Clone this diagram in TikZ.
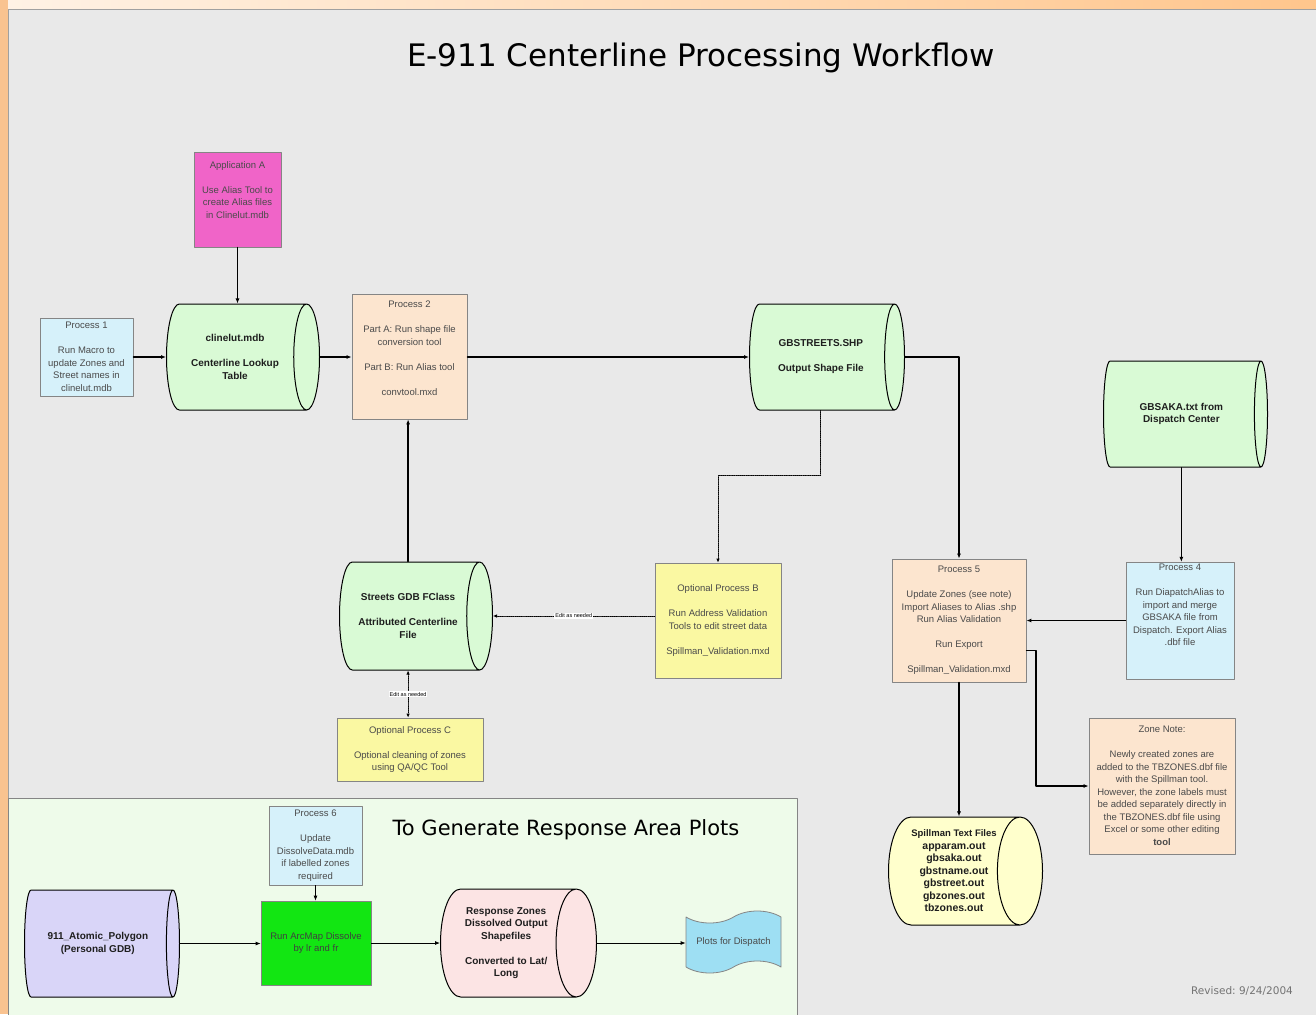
\documentclass[tikz,border=0pt]{standalone}
\usepackage{fontspec}
\setmainfont{Liberation Sans}
\newfontfamily\headfont{DejaVu Sans}
\usetikzlibrary{shapes.geometric,shapes.symbols,arrows.meta}

\definecolor{panelgray}{HTML}{E9E9E9}
\definecolor{panelline}{HTML}{A0A0A0}
\definecolor{plotpanel}{HTML}{EEFBEA}
\definecolor{edgeorange}{HTML}{F9C390}
\definecolor{boxline}{HTML}{858585}
\definecolor{boxtext}{HTML}{4A4A4A}
\definecolor{storetext}{HTML}{1E1E1E}
\definecolor{appmagenta}{HTML}{F064C8}
\definecolor{procblue}{HTML}{D6F1FA}
\definecolor{procpeach}{HTML}{FCE5CF}
\definecolor{optyellow}{HTML}{FAF8A2}
\definecolor{storegreen}{HTML}{D9FAD5}
\definecolor{storeyellow}{HTML}{FFFFCC}
\definecolor{storelilac}{HTML}{D9D5F8}
\definecolor{storepink}{HTML}{FCE4E4}
\definecolor{dissolvegreen}{HTML}{12E612}
\definecolor{plotblue}{HTML}{9EDFF3}

\tikzset{
  procbox/.style={draw=boxline, line width=0.8pt, align=center, inner sep=2pt,
    font=\fontsize{9.5}{12.5}\selectfont, text=boxtext},
  datastore/.style={cylinder, draw=black, line width=1pt, aspect=0.55, align=center,
    inner sep=1pt, anchor=east, font=\fontsize{10}{12.5}\selectfont\bfseries, text=storetext},
  flow/.style={line width=1.2pt, -{Latex[length=5pt,width=4pt]}},
  thinflow/.style={line width=0.8pt, -{Latex[length=5pt,width=4pt]}},
  editflow/.style={line width=0.9pt, densely dotted, -{Latex[length=4pt,width=3.5pt]}},
  edittag/.style={fill=white, inner sep=1pt, font=\fontsize{5.5}{6}\selectfont},
}

\begin{document}
\begin{tikzpicture}[x=1pt,y=-1pt,line cap=round,line join=round]
  \useasboundingbox (0,0) rectangle (1316,1014);

  % frame and panels
  \shade[left color=orange!10, right color=orange!45] (0,0) rectangle (1316,10);
  \fill[edgeorange] (0,0) rectangle (8,1014);
  \draw[fill=panelgray, draw=panelline, line width=1pt] (8,10) rectangle (1320,1018);
  \draw[fill=plotpanel, draw=boxline, line width=0.8pt] (8,798) rectangle (797,1018);

  \node[font=\headfont\fontsize{31}{36}\selectfont] (title) at (701,58)
    {E-911 Centerline Processing Workflow};
  \node[font=\headfont\fontsize{21}{24}\selectfont] (plotstitle) at (566,830)
    {To Generate Response Area Plots};
  \node[font=\headfont\fontsize{10.5}{12}\selectfont, text=gray!90!black] (revised) at (1242,991)
    {Revised:\ 9/24/2004};

  % upper workflow
  \node[procbox, fill=appmagenta, minimum width=87pt, minimum height=95pt] (appA) at (237.5,199.5)
    {Application A\\[12.5pt]Use Alias Tool to\\create Alias files\\in Clinelut.mdb\\[6.5pt]\mbox{}};
  \node[procbox, fill=procblue, minimum width=93pt, minimum height=78pt] (p1) at (86.5,357)
    {Process 1\\[12.5pt]Run Macro to\\update Zones and\\Street names in\\clinelut.mdb};
  \node[datastore, fill=storegreen, minimum height=153pt, minimum width=106pt] (clinelut) at (320,357)
    {clinelut.mdb\\[12.5pt]Centerline Lookup\\Table};
  \node[procbox, fill=procpeach, minimum width=115pt, minimum height=125pt] (p2) at (409.5,356.5)
    {Process 2\\[12.5pt]Part A: Run shape file\\conversion tool\\[12.5pt]Part B: Run Alias tool\\[12.5pt]convtool.mxd\\[4.5pt]\mbox{}};
  \node[datastore, fill=storegreen, minimum height=155pt, minimum width=106pt] (gbstreets) at (905,357)
    {GBSTREETS.SHP\\[12.5pt]Output Shape File};
  \node[datastore, fill=storegreen, minimum height=164pt, minimum width=106pt] (gbsaka) at (1268,414)
    {GBSAKA.txt from\\Dispatch Center};

  \node[datastore, fill=storegreen, minimum height=153pt, minimum width=108pt] (gdb) at (493,616)
    {Streets GDB FClass\\[12.5pt]Attributed Centerline\\File};
  \node[procbox, fill=optyellow, minimum width=146pt, minimum height=63pt] (optC) at (410,749.5)
    {Optional Process C\\[12.5pt]Optional cleaning of zones\\using QA/QC Tool};
  \node[procbox, fill=optyellow, minimum width=126pt, minimum height=115pt] (optB) at (718,620.5)
    {Optional Process B\\[12.5pt]Run Address Validation\\Tools to edit street data\\[12.5pt]Spillman\_Validation.mxd};
  \node[procbox, fill=procpeach, minimum width=134pt, minimum height=123pt] (p5) at (959,620.5)
    {Process 5\\[12.5pt]Update Zones (see note)\\Import Aliases to Alias .shp\\Run Alias Validation\\[12.5pt]Run Export\\[12.5pt]Spillman\_Validation.mxd};
  \node[procbox, fill=procblue, minimum width=108pt, minimum height=116pt] (p4) at (1180,621)
    {Process 4\\[12.5pt]Run DiapatchAlias to\\import and merge\\GBSAKA file from\\Dispatch. Export Alias\\.dbf file\\[19.5pt]\mbox{}};
  \node[procbox, fill=procpeach, minimum width=146pt, minimum height=136pt] (note) at (1162,786)
    {Zone Note:\\[12.5pt]Newly created zones are\\added to the TBZONES.dbf file\\with the Spillman tool.\\However, the zone labels must\\be added separately directly in\\the TBZONES.dbf file using\\Excel or some other editing\\\textbf{tool}};
  \node[datastore, fill=storeyellow, minimum height=154pt, minimum width=108pt, inner sep=0pt,
    font=\fontsize{10.5}{12.5}\selectfont\bfseries] (spillman) at (1043,871)
    {{\fontsize{9.5}{12.5}\selectfont Spillman Text Files}\\apparam.out\\gbsaka.out\\gbstname.out\\gbstreet.out\\gbzones.out\\tbzones.out};

  \draw[flow] (appA.south) -- (appA.south |- clinelut.north);
  \draw[flow] (p1.east) -- (clinelut.west |- p1.east);
  \draw[flow] (clinelut.east) -- (p2.west |- clinelut.east);
  \draw[flow] (p2.east |- gbstreets.west) -- (gbstreets.west);
  \draw[flow] (gbstreets.east) -| (p5.north);
  \draw[flow] (gdb.north) -- (gdb.north |- p2.south);
  \coordinate (dotbend) at (0,475);
  \draw[editflow] (gbstreets.south) -- (gbstreets.south |- dotbend) -| (optB.north);
  \draw[editflow] (optB.west |- gdb.east) -- node[edittag] {Edit as needed} (gdb.east);
  \draw[editflow, {Latex[length=4pt,width=3.5pt]}-{Latex[length=4pt,width=3.5pt]}]
    (gdb.south) -- node[edittag] {Edit as needed} (gdb.south |- optC.north);
  \draw[thinflow] (gbsaka.south) -- (gbsaka.south |- p4.north);
  \draw[flow] (p4.west |- p5.east) -- (p5.east);
  \draw[flow] (p5.south) -- (p5.south |- spillman.north);
  \coordinate (notejog) at (1036,786);
  \draw[flow] ([yshift=-30pt]p5.east) -| (notejog) -- (note.west);

  % response area plots
  \node[procbox, fill=procblue, minimum width=93pt, minimum height=79pt] (p6) at (315.5,845.5)
    {Process 6\\[12.5pt]Update\\DissolveData.mdb\\if labelled zones\\required};
  \node[datastore, fill=storelilac, minimum height=155pt, minimum width=107pt] (atomic) at (180,943.5)
    {911\_Atomic\_Polygon\\(Personal GDB)};
  \node[procbox, fill=dissolvegreen, minimum width=110pt, minimum height=84pt, text=black!75] (dissolve) at (316,943)
    {Run ArcMap Dissolve\\by lr and fr};
  \node[datastore, fill=storepink, minimum height=156pt, minimum width=108pt] (zones) at (597,943)
    {Response Zones\\Dissolved Output\\Shapefiles\\[12.5pt]Converted to Lat/\\Long};
  \node[tape, procbox, draw=boxline, fill=plotblue, minimum width=95pt, minimum height=62pt,
    tape bend top=in and out, tape bend bottom=in and out, tape bend height=12pt] (plots) at (733.5,942)
    {Plots for Dispatch};

  \draw[thinflow] (atomic.east) -- (dissolve.west |- atomic.east);
  \draw[thinflow] (p6.south) -- (p6.south |- dissolve.north);
  \draw[thinflow] (dissolve.east) -- (zones.west |- dissolve.east);
  \draw[thinflow] (zones.east) -- (plots.west |- zones.east);
\end{tikzpicture}
\end{document}
